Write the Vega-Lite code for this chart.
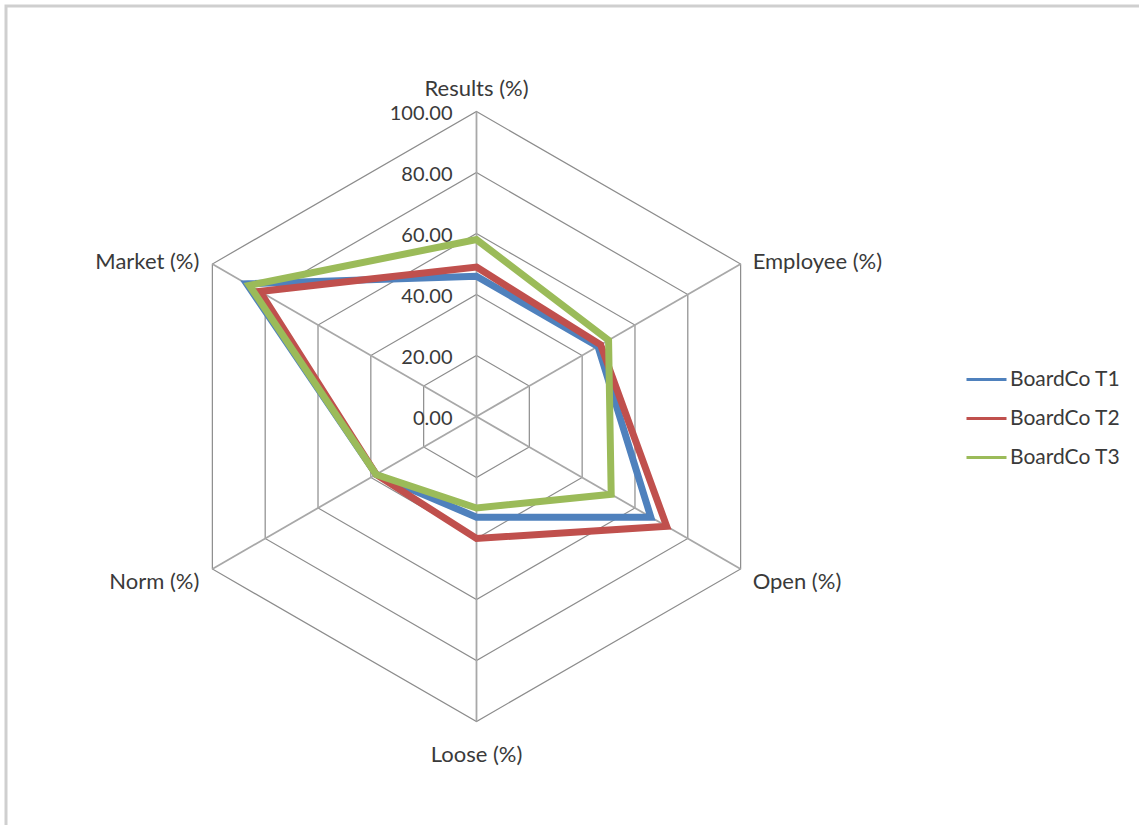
{
  "$schema": "https://vega.github.io/schema/vega-lite/v6.json",
  "autosize": {"type": "fit", "contains": "padding"},
  "width": 1139,
  "height": 825,
  "padding": {"left": 6, "top": 6, "right": -3, "bottom": -3},
  "background": "white",
  "config": {
    "view": {"stroke": "#cfcfcf", "strokeWidth": 3},
    "font": "Lato",
    "text": {"font": "Lato", "fontSize": 22, "color": "#3a3a3a"}
  },
  "datasets": {
    "scores": [
      {"series": "BoardCo T1", "axis": "Results (%)", "value": 46},
      {"series": "BoardCo T1", "axis": "Employee (%)", "value": 46},
      {"series": "BoardCo T1", "axis": "Open (%)", "value": 66},
      {"series": "BoardCo T1", "axis": "Loose (%)", "value": 33},
      {"series": "BoardCo T1", "axis": "Norm (%)", "value": 38},
      {"series": "BoardCo T1", "axis": "Market (%)", "value": 87},
      {"series": "BoardCo T2", "axis": "Results (%)", "value": 49},
      {"series": "BoardCo T2", "axis": "Employee (%)", "value": 47},
      {"series": "BoardCo T2", "axis": "Open (%)", "value": 72},
      {"series": "BoardCo T2", "axis": "Loose (%)", "value": 40},
      {"series": "BoardCo T2", "axis": "Norm (%)", "value": 38},
      {"series": "BoardCo T2", "axis": "Market (%)", "value": 82},
      {"series": "BoardCo T3", "axis": "Results (%)", "value": 58},
      {"series": "BoardCo T3", "axis": "Employee (%)", "value": 50},
      {"series": "BoardCo T3", "axis": "Open (%)", "value": 51},
      {"series": "BoardCo T3", "axis": "Loose (%)", "value": 30},
      {"series": "BoardCo T3", "axis": "Norm (%)", "value": 38},
      {"series": "BoardCo T3", "axis": "Market (%)", "value": 86}
    ],
    "grid": [
      {"level": 20, "axis": "Results (%)"}, {"level": 20, "axis": "Employee (%)"}, {"level": 20, "axis": "Open (%)"}, {"level": 20, "axis": "Loose (%)"}, {"level": 20, "axis": "Norm (%)"}, {"level": 20, "axis": "Market (%)"},
      {"level": 40, "axis": "Results (%)"}, {"level": 40, "axis": "Employee (%)"}, {"level": 40, "axis": "Open (%)"}, {"level": 40, "axis": "Loose (%)"}, {"level": 40, "axis": "Norm (%)"}, {"level": 40, "axis": "Market (%)"},
      {"level": 60, "axis": "Results (%)"}, {"level": 60, "axis": "Employee (%)"}, {"level": 60, "axis": "Open (%)"}, {"level": 60, "axis": "Loose (%)"}, {"level": 60, "axis": "Norm (%)"}, {"level": 60, "axis": "Market (%)"},
      {"level": 80, "axis": "Results (%)"}, {"level": 80, "axis": "Employee (%)"}, {"level": 80, "axis": "Open (%)"}, {"level": 80, "axis": "Loose (%)"}, {"level": 80, "axis": "Norm (%)"}, {"level": 80, "axis": "Market (%)"},
      {"level": 100, "axis": "Results (%)"}, {"level": 100, "axis": "Employee (%)"}, {"level": 100, "axis": "Open (%)"}, {"level": 100, "axis": "Loose (%)"}, {"level": 100, "axis": "Norm (%)"}, {"level": 100, "axis": "Market (%)"}
    ],
    "ticks": [{"level": 0}, {"level": 20}, {"level": 40}, {"level": 60}, {"level": 80}, {"level": 100}]
  },
  "encoding": {
    "x": {"field": "x", "type": "quantitative", "scale": {"domain": [-154.26, 218.2], "nice": false, "zero": false}, "axis": null},
    "y": {"field": "y", "type": "quantitative", "scale": {"domain": [-134.92, 134.59], "nice": false, "zero": false}, "axis": null}
  },
  "layer": [
    {
      "data": {"name": "grid"},
      "transform": [
        {"calculate": "indexof(['Results (%)','Employee (%)','Open (%)','Loose (%)','Norm (%)','Market (%)'], datum.axis)", "as": "idx"},
        {"calculate": "PI/2 - datum.idx*PI/3", "as": "ang"},
        {"calculate": "datum.level*cos(datum.ang)", "as": "x"},
        {"calculate": "datum.level*sin(datum.ang)", "as": "y"}
      ],
      "mark": {"type": "line", "interpolate": "linear-closed", "stroke": "#8c8c8c", "strokeWidth": 1.2},
      "encoding": {"detail": {"field": "level"}, "order": {"field": "idx"}}
    },
    {
      "data": {"name": "grid"},
      "transform": [
        {"filter": "datum.level == 100"},
        {"calculate": "indexof(['Results (%)','Employee (%)','Open (%)','Loose (%)','Norm (%)','Market (%)'], datum.axis)", "as": "idx"},
        {"calculate": "PI/2 - datum.idx*PI/3", "as": "ang"},
        {"calculate": "datum.level*cos(datum.ang)", "as": "x"},
        {"calculate": "datum.level*sin(datum.ang)", "as": "y"}
      ],
      "mark": {"type": "rule", "stroke": "#a8a8a8", "strokeWidth": 1.8},
      "encoding": {"x2": {"datum": 0}, "y2": {"datum": 0}}
    },
    {
      "data": {"name": "ticks"},
      "transform": [{"calculate": "0", "as": "x"}, {"calculate": "datum.level", "as": "y"}],
      "mark": {"type": "text", "align": "right", "baseline": "middle", "dx": -24, "dy": 3, "fontSize": 20},
      "encoding": {
        "text": {"field": "level", "type": "quantitative", "format": ".2f"}
      }
    },
    {
      "data": {"name": "scores"},
      "transform": [
        {"calculate": "indexof(['Results (%)','Employee (%)','Open (%)','Loose (%)','Norm (%)','Market (%)'], datum.axis)", "as": "idx"},
        {"calculate": "PI/2 - datum.idx*PI/3", "as": "ang"},
        {"calculate": "datum.value*cos(datum.ang)", "as": "x"},
        {"calculate": "datum.value*sin(datum.ang)", "as": "y"}
      ],
      "mark": {"type": "line", "interpolate": "linear-closed", "strokeWidth": 7},
      "encoding": {
        "order": {"field": "idx"},
        "color": {
          "field": "series", "type": "nominal",
          "scale": {"domain": ["BoardCo T1", "BoardCo T2", "BoardCo T3"], "range": ["#4F81BD", "#C0504D", "#9BBB59"]},
          "legend": {
            "title": null, "orient": "none", "legendX": 959, "legendY": 352,
            "symbolType": "stroke", "symbolSize": 1600, "symbolStrokeWidth": 3,
            "labelFont": "Lato", "labelFontSize": 21, "labelColor": "#3a3a3a", "labelOffset": 2,
            "rowPadding": 7, "padding": 0
          }
        }
      }
    },
    {
      "data": {"name": "grid"},
      "transform": [{"filter": "datum.level == 100 && datum.axis == 'Results (%)'"}, {"calculate": "0", "as": "x"}, {"calculate": "datum.level", "as": "y"}],
      "mark": {"type": "text", "align": "center", "baseline": "middle", "dy": -22},
      "encoding": {"text": {"field": "axis"}}
    },
    {
      "data": {"name": "grid"},
      "transform": [{"filter": "datum.level == 100 && datum.axis == 'Loose (%)'"}, {"calculate": "0", "as": "x"}, {"calculate": "-datum.level", "as": "y"}],
      "mark": {"type": "text", "align": "center", "baseline": "middle", "dy": 34},
      "encoding": {"text": {"field": "axis"}}
    },
    {
      "data": {"name": "grid"},
      "transform": [{"filter": "datum.level == 100 && datum.axis == 'Employee (%)'"}, {"calculate": "datum.level*cos(PI/6)", "as": "x"}, {"calculate": "datum.level*sin(PI/6)", "as": "y"}],
      "mark": {"type": "text", "align": "left", "baseline": "middle", "dx": 12, "dy": -2},
      "encoding": {"text": {"field": "axis"}}
    },
    {
      "data": {"name": "grid"},
      "transform": [{"filter": "datum.level == 100 && datum.axis == 'Open (%)'"}, {"calculate": "datum.level*cos(PI/6)", "as": "x"}, {"calculate": "-datum.level*sin(PI/6)", "as": "y"}],
      "mark": {"type": "text", "align": "left", "baseline": "middle", "dx": 12, "dy": 13},
      "encoding": {"text": {"field": "axis"}}
    },
    {
      "data": {"name": "grid"},
      "transform": [{"filter": "datum.level == 100 && datum.axis == 'Market (%)'"}, {"calculate": "-datum.level*cos(PI/6)", "as": "x"}, {"calculate": "datum.level*sin(PI/6)", "as": "y"}],
      "mark": {"type": "text", "align": "right", "baseline": "middle", "dx": -13, "dy": -2},
      "encoding": {"text": {"field": "axis"}}
    },
    {
      "data": {"name": "grid"},
      "transform": [{"filter": "datum.level == 100 && datum.axis == 'Norm (%)'"}, {"calculate": "-datum.level*cos(PI/6)", "as": "x"}, {"calculate": "-datum.level*sin(PI/6)", "as": "y"}],
      "mark": {"type": "text", "align": "right", "baseline": "middle", "dx": -13, "dy": 13},
      "encoding": {"text": {"field": "axis"}}
    }
  ]
}
